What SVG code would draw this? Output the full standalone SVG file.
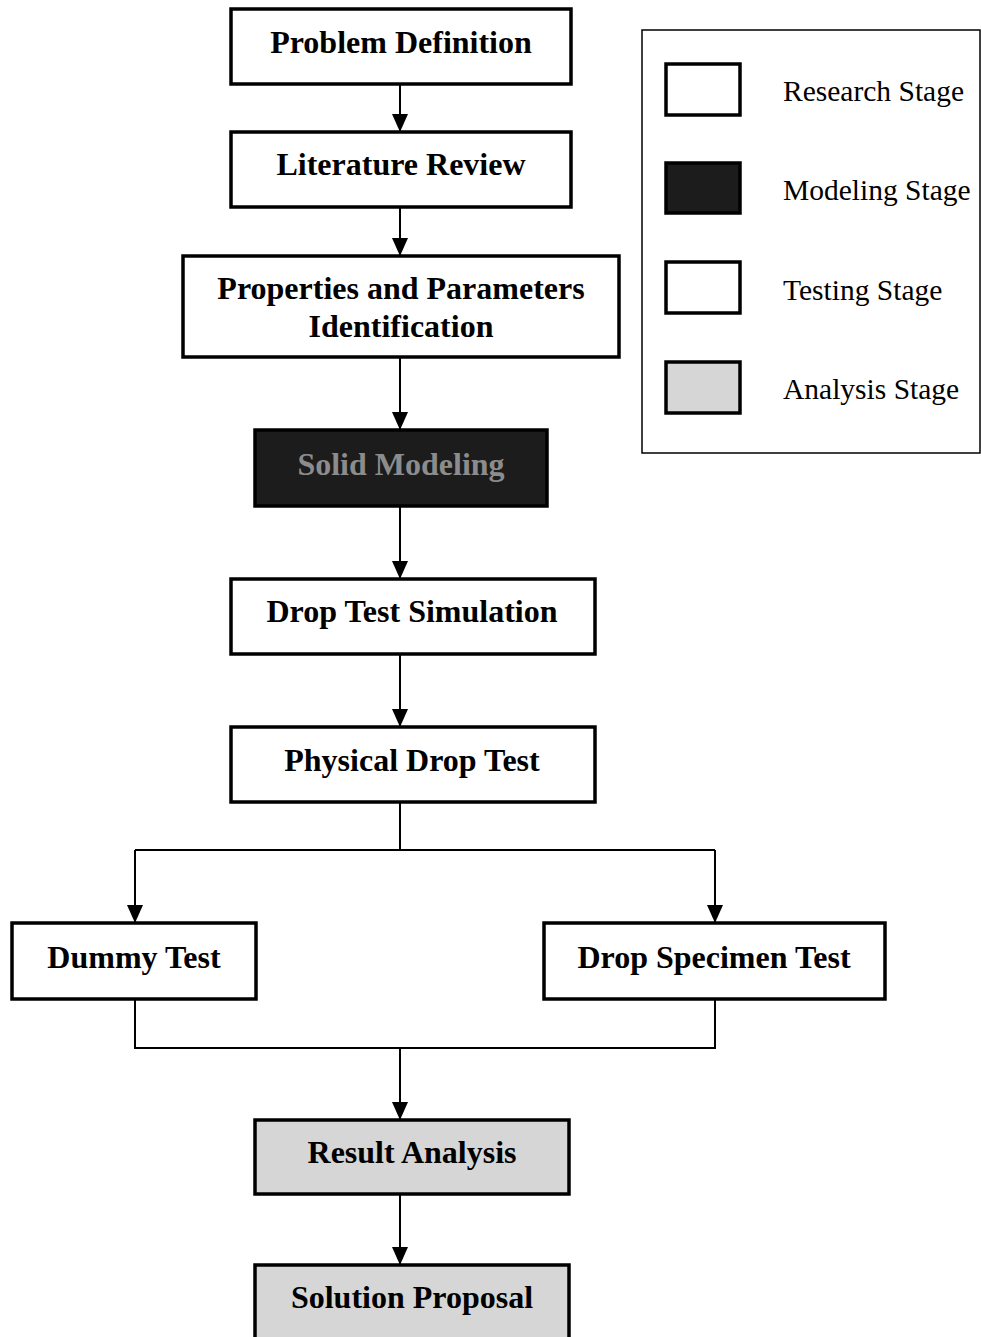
<svg xmlns="http://www.w3.org/2000/svg" width="981" height="1337" viewBox="0 0 981 1337">
<style>
.box{fill:#fff;stroke:#000;stroke-width:3.5}
.dark{fill:#1c1c1c;stroke:#000;stroke-width:3.5}
.light{fill:#d6d6d6;stroke:#000;stroke-width:3.5}
.t{font-family:"Liberation Serif",serif;font-weight:bold;font-size:32px;fill:#000;text-anchor:middle}
.lt{font-family:"Liberation Serif",serif;font-size:29.5px;fill:#000}
.c{fill:none;stroke:#000;stroke-width:2}
</style>
<defs>
<marker id="arr" viewBox="0 0 18 16" refX="18" refY="8" markerWidth="18" markerHeight="16" markerUnits="userSpaceOnUse" orient="auto">
<path d="M0,0 L18,8 L0,16 Z" fill="#000"/>
</marker>
</defs>
<g id="connectors">
<line class="c" x1="400" y1="85" x2="400" y2="132" marker-end="url(#arr)"/>
<line class="c" x1="400" y1="208" x2="400" y2="256" marker-end="url(#arr)"/>
<line class="c" x1="400" y1="358" x2="400" y2="430" marker-end="url(#arr)"/>
<line class="c" x1="400" y1="507" x2="400" y2="579" marker-end="url(#arr)"/>
<line class="c" x1="400" y1="655" x2="400" y2="727" marker-end="url(#arr)"/>
<line class="c" x1="400" y1="803" x2="400" y2="850"/>
<polyline class="c" points="135,850 715,850"/>
<line class="c" x1="135" y1="850" x2="135" y2="923" marker-end="url(#arr)"/>
<line class="c" x1="715" y1="850" x2="715" y2="923" marker-end="url(#arr)"/>
<polyline class="c" points="135,1000 135,1048 715,1048 715,1000"/>
<line class="c" x1="400" y1="1048" x2="400" y2="1120" marker-end="url(#arr)"/>
<line class="c" x1="400" y1="1195" x2="400" y2="1265" marker-end="url(#arr)"/>
</g>
<g id="problem-definition">
<rect class="box" x="231" y="9" width="340" height="75"/>
<text class="t" x="401" y="53">Problem Definition</text>
</g>
<g id="literature-review">
<rect class="box" x="231" y="132" width="340" height="75"/>
<text class="t" x="401" y="175">Literature Review</text>
</g>
<g id="properties">
<rect class="box" x="183" y="256" width="436" height="101"/>
<text class="t" x="401" y="299">Properties and Parameters</text>
<text class="t" x="401" y="337">Identification</text>
</g>
<g id="solid-modeling">
<rect class="dark" x="255" y="430" width="292" height="76"/>
<text class="t" x="401" y="475" style="fill:#8c8c8c">Solid Modeling</text>
</g>
<g id="drop-test-simulation">
<rect class="box" x="231" y="579" width="364" height="75"/>
<text class="t" x="412" y="622">Drop Test Simulation</text>
</g>
<g id="physical-drop-test">
<rect class="box" x="231" y="727" width="364" height="75"/>
<text class="t" x="412" y="771">Physical Drop Test</text>
</g>
<g id="dummy-test">
<rect class="box" x="12" y="923" width="244" height="76"/>
<text class="t" x="134" y="968">Dummy Test</text>
</g>
<g id="drop-specimen-test">
<rect class="box" x="544" y="923" width="341" height="76"/>
<text class="t" x="714" y="968">Drop Specimen Test</text>
</g>
<g id="result-analysis">
<rect class="light" x="255" y="1120" width="314" height="74"/>
<text class="t" x="412" y="1163">Result Analysis</text>
</g>
<g id="solution-proposal">
<rect class="light" x="255" y="1265" width="314" height="80"/>
<text class="t" x="412" y="1308">Solution Proposal</text>
</g>
<g id="legend">
<rect x="642" y="30" width="338" height="423" fill="#fff" stroke="#000" stroke-width="1.5"/>
<rect class="box" x="666" y="64" width="74" height="51"/>
<text class="lt" x="783" y="101">Research Stage</text>
<rect class="dark" x="666" y="163" width="74" height="50"/>
<text class="lt" x="783" y="200">Modeling Stage</text>
<rect class="box" x="666" y="262" width="74" height="51"/>
<text class="lt" x="783" y="300">Testing Stage</text>
<rect class="light" x="666" y="362" width="74" height="51"/>
<text class="lt" x="783" y="399">Analysis Stage</text>
</g>
</svg>
